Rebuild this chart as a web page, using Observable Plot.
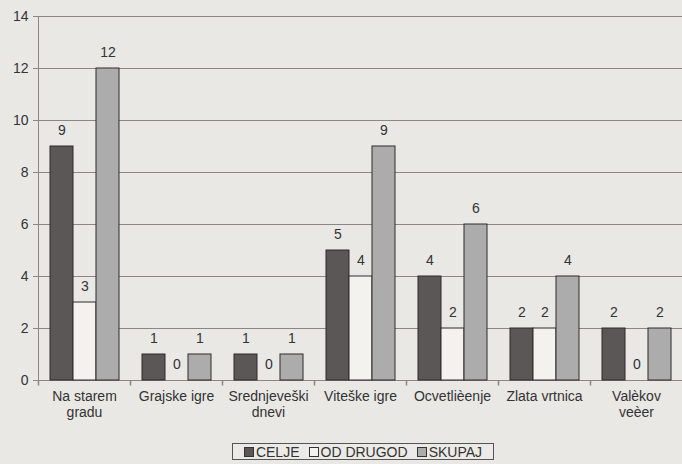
<!DOCTYPE html>
<html><head><meta charset="utf-8">
<script src="https://cdn.jsdelivr.net/npm/d3@7"></script>
<script src="https://cdn.jsdelivr.net/npm/@observablehq/plot@0.6"></script>
<style>
body{margin:0;background:#e9e8e5;font-family:"Liberation Sans",Arial,sans-serif;color:#333;}
#chart{width:682px;height:464px;position:relative;overflow:hidden}
#legend{position:absolute;left:232px;top:443px;width:262px;height:17px;border:1px solid #555;display:flex;align-items:center;justify-content:center;gap:9px;font-size:14px;line-height:16px;box-sizing:border-box;background:#eceae7}
#legend span.item{display:flex;align-items:center}
#legend i{display:inline-block;width:8px;height:8px;border:1px solid #333;margin-right:2px}
</style></head><body><div id="chart"></div>
<script>
const categories = ["Na starem gradu","Grajske igre","Srednjeveški dnevi","Viteške igre","Ocvetlièenje","Zlata vrtnica","Valèkov veèer"];
const tickLabels = ["Na starem\ngradu","Grajske igre","Srednjeveški\ndnevi","Viteške igre","Ocvetlièenje","Zlata vrtnica","Valèkov\nveèer"];
const series = ["CELJE","OD DRUGOD","SKUPAJ"];
const celje = [9,1,1,5,4,2,2];
const odDrugod = [3,0,0,4,2,2,0];
const skupaj = [12,1,1,9,6,4,2];
const yTicks = [0,2,4,6,8,10,12,14];
const colors = ["#5b5757","#f3f2ef","#acacac"];

const data = categories.flatMap((c,i)=>[celje[i],odDrugod[i],skupaj[i]].map((v,j)=>({category:c, series:series[j], value:v})));

const tickSymbol = {draw(ctx){ ctx.moveTo(0,0); ctx.lineTo(0,5); }};
const lineColor = "#8a8785";

const plot = Plot.plot({
  width:682, height:420, marginLeft:38, marginRight:0, marginTop:16, marginBottom:40,
  style:{background:"transparent", fontFamily:"'Liberation Sans', Arial, sans-serif", fontSize:"14px", color:"#333"},
  fx:{domain:categories, padding:0, label:null, axis:null},
  x:{domain:series, paddingInner:0, paddingOuter:0.45, axis:null},
  y:{domain:[0,14], label:null},
  color:{domain:series, range:colors},
  marks:[
    Plot.gridY(yTicks,{stroke:lineColor, strokeOpacity:1, strokeWidth:1}),
    Plot.axisY(yTicks,{tickSize:5, tickPadding:5, label:null, fontSize:14, stroke:lineColor, fill:"#333"}),
    Plot.frame({anchor:"left", facetAnchor:"left", stroke:lineColor}),
    Plot.axisFx({anchor:"bottom", tickSize:0, tickPadding:10, label:null, fontSize:14, fill:"#333", lineHeight:1.1,
      tickFormat:(d)=>tickLabels[categories.indexOf(d)]}),
    Plot.ruleY([0],{stroke:lineColor}),
    Plot.dot({length:1},{x:null, y:null, frameAnchor:"bottom-left", symbol:tickSymbol, stroke:lineColor, fill:"none"}),
    Plot.barY(data,{fx:"category", x:"series", y:"value", fill:"series", stroke:"#2f2b2b", strokeWidth:1, inset:0}),
    Plot.text(data,{fx:"category", x:"series", y:"value", text:"value", dy:-16, fontSize:14, fill:"#333"})
  ]
});
const chart = document.getElementById("chart");
chart.appendChild(plot);

const legend = document.createElement("div");
legend.id = "legend";
series.forEach((s,j)=>{
  const item = document.createElement("span");
  item.className = "item";
  const sw = document.createElement("i");
  sw.style.background = colors[j];
  item.appendChild(sw);
  item.appendChild(document.createTextNode(s));
  legend.appendChild(item);
});
chart.appendChild(legend);
</script>
</body></html>
